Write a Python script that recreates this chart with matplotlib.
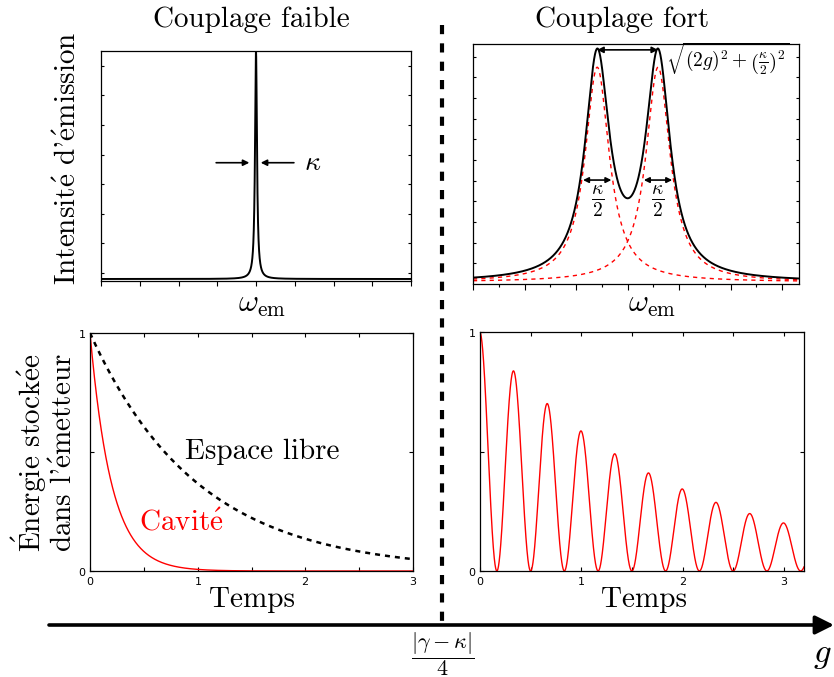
import numpy as np
import matplotlib
matplotlib.use("Agg")
import matplotlib.pyplot as plt
from matplotlib.patches import FancyArrowPatch

plt.rcParams['font.family'] = ['cmr10', 'DejaVu Serif']
plt.rcParams['mathtext.fontset'] = 'cm'
plt.rcParams['axes.unicode_minus'] = False
plt.rcParams['axes.formatter.use_mathtext'] = True

W, H = 834, 677

# ---------------- data ----------------
# weak coupling spectrum: single narrow Lorentzian
weak_center = 0.0
weak_hwhm = 0.03
weak_xlim = (-4.0, 4.0)
# strong coupling spectrum: two Lorentzians (red dashed) and the total (black)
strong_centers = [-1.18, 1.18]
strong_hwhm = 0.57
strong_red_amp = 0.99
strong_black_amp = 1.02
strong_xlim = (-6.0, 6.65)
# stored energy, weak coupling: exponential decays
free_rate = 1.0      # Espace libre
cavity_rate = 5.0    # Cavité
# stored energy, strong coupling: damped Rabi oscillation
rabi_period = 1.0 / 3.0
rabi_decay = 0.535
time_ticks = [0, 1, 2, 3]
energy_ticks = [0, 1]

fig = plt.figure(figsize=(W / 100, H / 100), dpi=100)


def frac(x, y):
    return (x / W, 1 - y / H)


def box(l, t, r, b):
    return [l / W, 1 - b / H, (r - l) / W, (b - t) / H]


FS = 21
E = r'$\mathrm{\acute{e}}$'

# ---------------- top-left: weak coupling spectrum ----------------
ax1 = fig.add_axes(box(101, 51, 411, 281))
x1 = np.linspace(*weak_xlim, 6001)
y1 = 1.0 / (1 + ((x1 - weak_center) / weak_hwhm) ** 2)
ax1.plot(x1, y1, color='black', lw=1.4)
ax1.set_xlim(*weak_xlim)
ax1.set_ylim(-0.0088, 1.0)
ax1.set_xticks(np.arange(-4, 5, 1))
ax1.set_xticklabels([])
ax1.set_yticks(0.026 + 0.13 * np.arange(8))
ax1.set_yticklabels([])
ax1.tick_params(axis='x', direction='out', length=3.5, width=0.8, bottom=True, top=False)
ax1.tick_params(axis='y', direction='in', length=2.5, width=0.8, left=True, right=True)
for s in ax1.spines.values():
    s.set_linewidth(0.9)
ax1.annotate('', xy=(-0.1, 0.51), xytext=(-1.1, 0.51),
             arrowprops=dict(arrowstyle='-|>', color='black', lw=1.2, mutation_scale=9))
ax1.annotate('', xy=(0.05, 0.51), xytext=(1.05, 0.51),
             arrowprops=dict(arrowstyle='-|>', color='black', lw=1.2, mutation_scale=9))
ax1.text(1.25, 0.51, r'$\kappa$', fontsize=20, va='center', ha='left')

# ---------------- top-right: strong coupling spectrum ----------------
ax2 = fig.add_axes(box(473, 44, 799, 284))
x2 = np.linspace(*strong_xlim, 4001)
comps = [1.0 / (1 + ((x2 - c) / strong_hwhm) ** 2) for c in strong_centers]
for c in comps:
    ax2.plot(x2, strong_red_amp * c, color='red', lw=1.0, ls=(0, (3, 3)))
ax2.plot(x2, strong_black_amp * (comps[0] + comps[1]), color='black', lw=1.4)
ax2.set_xlim(*strong_xlim)
ax2.set_ylim(-0.009, 1.097)
ax2.set_xticks(np.arange(-6, 7, 2))
ax2.set_xticks(np.arange(-5, 7, 2), minor=True)
ax2.set_xticklabels([])
ax2.set_yticks(0.086 + 0.0953 * np.arange(11))
ax2.set_yticklabels([])
ax2.tick_params(axis='x', which='major', direction='out', length=4, width=0.8)
ax2.tick_params(axis='x', which='minor', direction='out', length=2.5, width=0.8)
ax2.tick_params(axis='y', direction='in', length=2.5, width=0.8, left=True, right=True)
for s in ax2.spines.values():
    s.set_linewidth(0.9)
pk = 1.07
ax2.annotate('', xy=(strong_centers[0], pk), xytext=(strong_centers[1], pk),
             arrowprops=dict(arrowstyle='<|-|>', color='black', lw=1.2, mutation_scale=9,
                             shrinkA=0, shrinkB=0))
ax2.text(1.5, 1.03, r'$\sqrt{(2g)^2+\left(\frac{\kappa}{2}\right)^2}$', fontsize=14,
         va='center', ha='left')
hy = 0.47
for c in strong_centers:
    ax2.annotate('', xy=(c - 0.55, hy), xytext=(c + 0.55, hy),
                 arrowprops=dict(arrowstyle='<|-|>', color='black', lw=1.2, mutation_scale=8,
                                 shrinkA=0, shrinkB=0))
    ax2.text(c, 0.37, r'$\frac{\kappa}{2}$', fontsize=20, ha='center', va='center')

# ---------------- bottom-left: weak coupling energy ----------------
ax3 = fig.add_axes(box(90, 333, 413, 571))
t3 = np.linspace(0, 3, 1000)
ax3.plot(t3, np.exp(-free_rate * t3), color='black', lw=1.8, ls=(0, (2, 2)))
ax3.plot(t3, np.exp(-cavity_rate * t3), color='red', lw=1.0)
ax3.set_xlim(0, 3)
ax3.set_ylim(0, 1)
ax3.text(1.6, 0.5, 'Espace libre', fontsize=FS, ha='center', va='center')
ax3.text(0.85, 0.2, 'Cavit' + E, fontsize=FS, ha='center', va='center', color='red')

# ---------------- bottom-right: strong coupling energy ----------------
ax4 = fig.add_axes(box(480, 332, 804, 571))
t4 = np.linspace(0, 3.2, 3000)
ax4.plot(t4, np.exp(-rabi_decay * t4) * np.cos(np.pi * t4 / rabi_period) ** 2, color='red', lw=1.0)
ax4.set_xlim(0, 3.2)
ax4.set_ylim(0, 1)

for ax in (ax3, ax4):
    ax.set_xticks(time_ticks)
    ax.set_xticks(np.arange(0.5, 3.2, 1.0), minor=True)
    ax.set_yticks(energy_ticks)
    ax.set_yticks([0.5], minor=True)
    ax.tick_params(which='both', direction='in', top=True, right=True, length=3, width=0.8,
                   labelsize=8, pad=3)
    for lab in ax.get_xticklabels() + ax.get_yticklabels():
        lab.set_family('DejaVu Sans')
    for s in ax.spines.values():
        s.set_linewidth(0.9)

# ---------------- figure-level text ----------------
fig.text(*frac(251, 20), 'Couplage faible', fontsize=FS, ha='center', va='center')
fig.text(*frac(622, 20), 'Couplage fort', fontsize=FS, ha='center', va='center')
fig.text(*frac(68, 158), 'Intensit' + E + ' d\'' + E + 'mission',
         fontsize=FS, rotation=90, ha='center', va='center')
fig.text(*frac(44, 453), r'$\mathrm{\acute{E}}$' + 'nergie stock' + E + 'e\ndans l\''
         + E + 'metteur', fontsize=FS, rotation=90, ha='center', va='center',
         multialignment='center', linespacing=1.05)
fig.text(*frac(262, 305), r'$\omega_{\rm em}$', fontsize=22, ha='center', va='center')
fig.text(*frac(652, 305), r'$\omega_{\rm em}$', fontsize=22, ha='center', va='center')
fig.text(*frac(252, 600), 'Temps', fontsize=FS, ha='center', va='center')
fig.text(*frac(644, 600), 'Temps', fontsize=FS, ha='center', va='center')
fig.text(*frac(443, 654), r'$\dfrac{|\gamma-\kappa|}{4}$', fontsize=16, ha='center', va='center')
fig.text(*frac(822, 655), r'$g$', fontsize=25, ha='center', va='center')

# vertical dashed separator and g axis arrow
fig.add_artist(plt.Line2D([442 / W, 442 / W], [1 - 25 / H, 1 - 625 / H], transform=fig.transFigure,
                          color='black', lw=3, ls=(0, (2.2, 2.2))))
fig.add_artist(FancyArrowPatch(frac(49, 625), frac(834, 625), transform=fig.transFigure,
                               arrowstyle='-|>', mutation_scale=28, color='black', lw=2.6,
                               shrinkA=0, shrinkB=0))

fig.savefig('out.png', dpi=100)
